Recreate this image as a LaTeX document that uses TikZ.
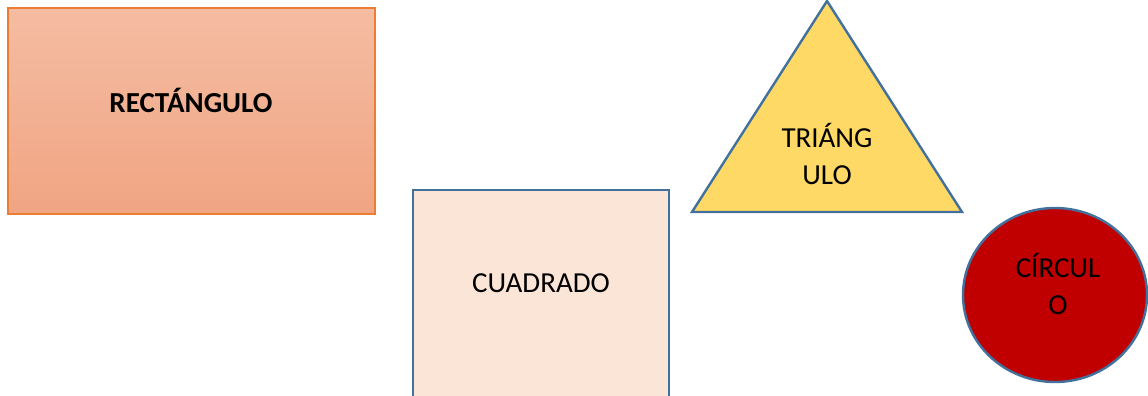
\documentclass[tikz,border=0pt]{standalone}
\usepackage{fontspec}
\setmainfont{Carlito}
\usetikzlibrary{positioning}
\definecolor{orangeline}{HTML}{ED7D31}
\definecolor{salmontop}{HTML}{F5BCA2}
\definecolor{salmonbot}{HTML}{F0A583}
\definecolor{peach}{HTML}{FBE5D6}
\definecolor{steel}{HTML}{41719C}
\definecolor{gold}{HTML}{FFD966}
\definecolor{darkred}{HTML}{C00000}
\tikzset{
  shapeline/.style={line width=2.4pt, draw=steel},
  shapetext/.style={font=\fontsize{29}{37}\selectfont, align=center, inner sep=0pt}
}

\begin{document}
\begin{tikzpicture}[x=1pt, y=-1pt]
        \useasboundingbox (0,0) rectangle (1148,396);
        \clip (0,0) rectangle (1148,396);
        % Rectangle
        \shade[top color=salmontop, bottom color=salmonbot]
          (8,8) rectangle (375,214);
        \draw[orangeline, line width=1.5pt] (8,8) rectangle (375,214);
        \node[shapetext, font=\fontsize{29}{37}\selectfont\bfseries] (rect) at (191,100) {RECTÁNGULO};
        % Square
        \draw[shapeline, fill=peach] (413,190) rectangle (669,402);
        \node[shapetext] (square) at (541,283) {CUADRADO};
        % Triangle
        \draw[shapeline, fill=gold, line join=miter] (827,1) -- (962,212) -- (692,212) -- cycle;
        \node[shapetext] (tri) at (827,154) {TRIÁNG\\ULO};
        % Circle
        \draw[shapeline, fill=darkred] (1055,295) ellipse [x radius=92, y radius=87];
        \node[shapetext] (circ) at (1058,284) {CÍRCUL\\O};
      \end{tikzpicture}
\end{document}
